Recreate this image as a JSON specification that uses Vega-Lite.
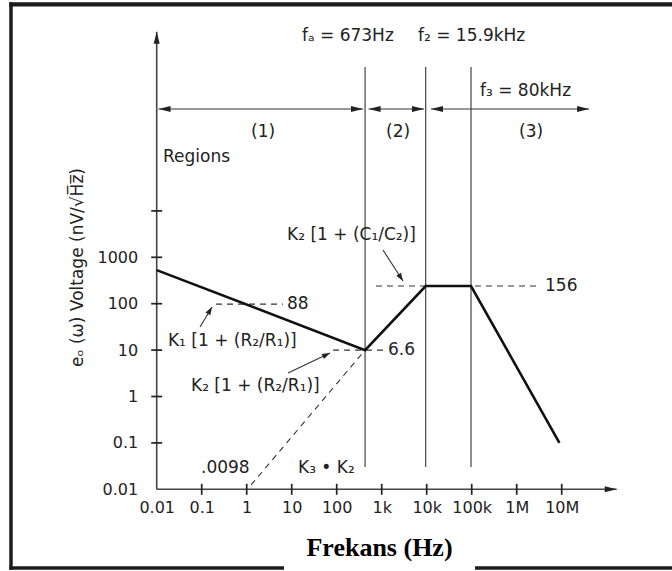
{
  "$schema": "https://vega.github.io/schema/vega-lite/v6.json",
  "autosize": {"type": "none"},
  "padding": {"left": 11, "top": 4, "right": 0, "bottom": 3},
  "width": 661,
  "height": 564,
  "background": "white",
  "config": {
    "view": {"stroke": null},
    "font": "DejaVu Sans"
  },
  "datasets": {
    "curve": [
      {"x": 0.01, "y": 530},
      {"x": 427, "y": 10},
      {"x": 9500, "y": 240},
      {"x": 96500, "y": 240},
      {"x": 8900000, "y": 0.1}
    ],
    "dashed": [
      {"id": "a", "x": 0.208, "y": 98},
      {"id": "a", "x": 6.4, "y": 98},
      {"id": "b", "x": 83, "y": 10},
      {"id": "b", "x": 1125, "y": 10},
      {"id": "c", "x": 747, "y": 240},
      {"id": "c", "x": 2690000, "y": 240},
      {"id": "d", "x": 1.25, "y": 0.0124},
      {"id": "d", "x": 427, "y": 10}
    ],
    "segments": [
      {"x": 427, "y": 0.0303, "x2": 427, "y2": 12600000},
      {"x": 9500, "y": 0.0303, "x2": 9500, "y2": 12600000},
      {"x": 96500, "y": 0.0303, "x2": 96500, "y2": 12600000},
      {"x": 0.011, "y": 1570000, "x2": 384, "y2": 1570000},
      {"x": 512, "y": 1570000, "x2": 8710, "y2": 1570000},
      {"x": 12470, "y": 1570000, "x2": 40500000, "y2": 1570000},
      {"x": 0.0917, "y": 31.5, "x2": 0.1695, "y2": 84.9},
      {"x": 8.28, "y": 3.21, "x2": 71.0, "y2": 8.66},
      {"x": 1069, "y": 1436, "x2": 2973, "y2": 308}
    ],
    "axes": [
      {"x": 0.01, "y": 0.01, "x2": 167000000, "y2": 0.01},
      {"x": 0.01, "y": 0.01, "x2": 0.01, "y2": 72800000}
    ],
    "frame": [
      {"x": 5.289e-6, "x2": 6.325e-6, "y": 1.845e-4, "y2": 3.14e8},
      {"x": 5.289e-6, "x2": 2.825e9, "y": 2.53e8, "y2": 3.14e8},
      {"x": 5.289e-6, "x2": 6.745, "y": 1.845e-4, "y2": 2.2e-4},
      {"x": 118400, "x2": 2.825e9, "y": 1.845e-4, "y2": 2.2e-4}
    ],
    "heads": [
      {"x": 0.011, "y": 1570000, "dir": "left"},
      {"x": 384, "y": 1570000, "dir": "right"},
      {"x": 512, "y": 1570000, "dir": "left"},
      {"x": 8710, "y": 1570000, "dir": "right"},
      {"x": 12470, "y": 1570000, "dir": "left"},
      {"x": 40500000, "y": 1570000, "dir": "right"},
      {"x": 167000000, "y": 0.01, "dir": "right"},
      {"x": 0.01, "y": 72800000, "dir": "up"},
      {"x": 0.1695, "y": 84.9, "dir": "k1"},
      {"x": 71.0, "y": 8.66, "dir": "k2r"},
      {"x": 2973, "y": 308, "dir": "k2c"}
    ],
    "xticks": [
      {"x": 0.1, "y": 0.01}, {"x": 1, "y": 0.01}, {"x": 10, "y": 0.01},
      {"x": 100, "y": 0.01}, {"x": 1000, "y": 0.01}, {"x": 10000, "y": 0.01},
      {"x": 100000, "y": 0.01}, {"x": 1000000, "y": 0.01}, {"x": 10000000, "y": 0.01}
    ],
    "yticks": [
      {"x": 0.01, "y": 0.1}, {"x": 0.01, "y": 1}, {"x": 0.01, "y": 10},
      {"x": 0.01, "y": 100}, {"x": 0.01, "y": 1000}, {"x": 0.01, "y": 10000}
    ],
    "labels": [
      {"x": 16.9, "y": 58700000, "text": "fₐ = 673Hz"},
      {"x": 6412, "y": 58700000, "text": "f₂ = 15.9kHz"},
      {"x": 153000, "y": 3840000, "text": "f₃ = 80kHz"},
      {"x": 1.246, "y": 501000, "text": "(1)"},
      {"x": 1247, "y": 501000, "text": "(2)"},
      {"x": 1125000, "y": 501000, "text": "(3)"},
      {"x": 0.0138, "y": 145000, "text": "Regions"},
      {"x": 7.87, "y": 3027, "text": "K₂ [1 + (C₁/C₂)]"},
      {"x": 7.87, "y": 98.6, "text": "88"},
      {"x": 0.0178, "y": 15.7, "text": "K₁ [1 + (R₂/R₁)]"},
      {"x": 1380, "y": 10.05, "text": "6.6"},
      {"x": 0.0578, "y": 1.68, "text": "K₂ [1 + (R₂/R₁)]"},
      {"x": 4260000, "y": 240, "text": "156"},
      {"x": 0.0964, "y": 0.0287, "text": ".0098"},
      {"x": 13.8, "y": 0.0287, "text": "K₃ • K₂"}
    ]
  },
  "encoding": {
    "x": {
      "field": "x",
      "type": "quantitative",
      "scale": {"type": "log", "domain": [5.783e-6, 2.825e9], "nice": false, "zero": false},
      "axis": {
        "values": [0.01, 0.1, 1, 10, 100, 1000, 10000, 100000, 1000000, 10000000],
        "labelExpr": "['0.01','0.1','1','10','100','1k','10k','100k','1M','10M'][round(log(datum.value)/LN10)+2]",
        "domain": false,
        "ticks": false,
        "grid": false,
        "labelFont": "DejaVu Sans",
        "labelFontSize": 16,
        "labelColor": "#222",
        "labelPadding": 10,
        "labelFlush": false,
        "labelOverlap": false,
        "labelBound": false,
        "offset": -78.7,
        "title": "Frekans (Hz)",
        "titleFont": "Liberation Serif",
        "titleFontSize": 26,
        "titleFontWeight": "bold",
        "titleColor": "#000",
        "titleX": 368,
        "titleY": 66,
        "titleAlign": "center",
        "titleBaseline": "alphabetic"
      }
    },
    "y": {
      "field": "y",
      "type": "quantitative",
      "scale": {"type": "log", "domain": [2.014e-4, 2.877e8], "nice": false, "zero": false},
      "axis": {
        "values": [0.01, 0.1, 1, 10, 100, 1000],
        "labelExpr": "['0.01','0.1','1','10','100','1000'][round(log(datum.value)/LN10)+2]",
        "domain": false,
        "ticks": false,
        "grid": false,
        "labelFont": "DejaVu Sans",
        "labelFontSize": 16,
        "labelColor": "#222",
        "labelPadding": 19,
        "labelOverlap": false,
        "labelFlush": false,
        "labelBound": false,
        "offset": -145.7,
        "title": "eₒ (ω) Voltage (nV/√H̅z̅)",
        "titleFont": "DejaVu Sans",
        "titleFontSize": 17,
        "titleFontWeight": "normal",
        "titleColor": "#222",
        "titleX": -79,
        "titleY": 263,
        "titleAngle": 270,
        "titleAlign": "center",
        "titleBaseline": "middle"
      }
    }
  },
  "layer": [
    {
      "data": {"name": "segments"},
      "mark": {"type": "rule", "color": "#333", "strokeWidth": 1.1},
      "encoding": {"x2": {"field": "x2"}, "y2": {"field": "y2"}}
    },
    {
      "data": {"name": "axes"},
      "mark": {"type": "rule", "color": "#444", "strokeWidth": 1.6},
      "encoding": {"x2": {"field": "x2"}, "y2": {"field": "y2"}}
    },
    {
      "data": {"name": "frame"},
      "mark": {"type": "rect", "color": "#1c1c1c", "opacity": 1, "strokeWidth": 0},
      "encoding": {"x2": {"field": "x2"}, "y2": {"field": "y2"}}
    },
    {
      "data": {"name": "dashed"},
      "mark": {"type": "line", "color": "#333", "strokeWidth": 1.1, "strokeDash": [6, 5]},
      "encoding": {"detail": {"field": "id"}}
    },
    {
      "data": {"name": "curve"},
      "mark": {"type": "line", "color": "#111", "strokeWidth": 2.6}
    },
    {
      "data": {"name": "heads"},
      "mark": {"type": "point", "filled": true, "size": 144, "opacity": 1, "color": "#222", "strokeWidth": 0},
      "encoding": {
        "shape": {
          "field": "dir",
          "type": "nominal",
          "legend": null,
          "scale": {
            "domain": ["left", "right", "up", "k1", "k2r", "k2c"],
            "range": [
              "M0,0L2,-0.5L2,0.5Z",
              "M0,0L-2,-0.5L-2,0.5Z",
              "M0,0L-0.5,2L0.5,2Z",
              "M0,0L-1.087,0.902L-0.287,1.383Z",
              "M0,0L-1.404,0.153L-1.003,0.995Z",
              "M0,0L-0.335,-1.373L-1.118,-0.864Z"
            ]
          }
        }
      }
    },
    {
      "data": {"name": "xticks"},
      "mark": {"type": "tick", "orient": "vertical", "size": 11, "thickness": 1.7, "color": "#222", "opacity": 1}
    },
    {
      "data": {"name": "yticks"},
      "mark": {"type": "tick", "orient": "horizontal", "size": 11, "thickness": 1.7, "color": "#222", "opacity": 1}
    },
    {
      "data": {"name": "labels"},
      "mark": {"type": "text", "align": "left", "baseline": "middle", "fontSize": 17, "font": "DejaVu Sans", "color": "#222"},
      "encoding": {"text": {"field": "text"}}
    }
  ]
}
